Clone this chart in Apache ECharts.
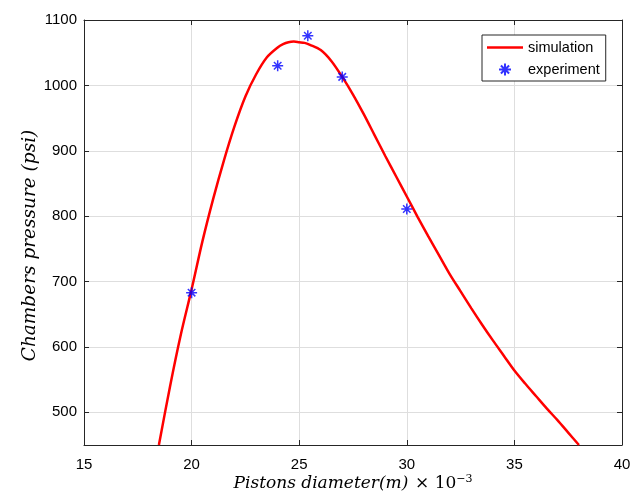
<!DOCTYPE html>
<html><head><meta charset="utf-8">
<script src="https://cdn.jsdelivr.net/npm/echarts@6/dist/echarts.min.js"></script>
<style>html,body{margin:0;padding:0;background:#fff}#c{width:640px;height:492px}</style>
</head><body><div id="c"></div>
<script>
// Simulation curve
const simX = [18.48, 19.0, 19.5, 20.0, 20.5, 21.0, 21.5, 22.0, 22.5, 23.0, 23.5, 24.0, 24.25, 24.5, 24.75, 25.0, 25.25, 25.5, 26.0, 26.5, 27.0, 27.5, 28.0, 28.5, 29.0, 29.5, 30.0, 30.5, 31.0, 31.5, 32.0, 32.5, 33.0, 33.5, 34.0, 34.5, 35.0, 35.5, 36.0, 36.5, 37.0, 37.5, 38.0];
const simY = [450, 540, 619, 688, 761, 826, 885, 938, 983, 1017, 1043, 1058, 1063, 1066, 1067, 1066, 1065, 1062, 1054, 1037, 1013, 986, 956, 924, 892, 861, 830, 799, 769, 740, 711, 685, 659, 634, 610, 587, 564, 544, 525, 506, 488, 469, 450];
// Experiment points
const expX = [20, 24, 25.4, 27, 30];
const expY = [683, 1030, 1076, 1013, 811];
const seriesNames = ['simulation', 'experiment'];
const xName = 'Pistons diameter(m)';
const yName = 'Chambers pressure (psi)';

const chart = echarts.init(document.getElementById('c'), null, {renderer: 'canvas'});
const asterisk = 'path://M5,0L5,10M0,5L10,5M1.6,1.6L8.4,8.4M8.4,1.6L1.6,8.4';
const axisCol = '#262626';
const labelFont = 'Liberation Sans';
const serif = 'DejaVu Serif';
const boxAxis = {
  axisLine: {show: true, onZero: false, lineStyle: {color: axisCol, width: 1}},
  axisTick: {show: true, inside: true, length: 5, lineStyle: {color: axisCol}},
};
const option = {
  animation: false,
  grid: {left: 84, right: 18, top: 20, bottom: 47, containLabel: false, outerBoundsMode: 'none'},
  legend: {
    orient: 'vertical', left: 482, top: 35,
    data: [
      {name: seriesNames[0], icon: 'path://M0,0L36,0L36,2.6L0,2.6Z'},
      {name: seriesNames[1]}
    ],
    backgroundColor: '#fff', borderColor: axisCol, borderWidth: 1,
    padding: [5, 6, 4, 5], itemGap: 7, itemWidth: 36, itemHeight: 12,
    textStyle: {fontFamily: labelFont, fontSize: 14.5, color: '#000'}
  },
  xAxis: [
    Object.assign({
      type: 'value', min: 15, max: 40, interval: 5, position: 'bottom',
      axisLabel: {color: '#000', fontSize: 15, margin: 12, fontFamily: labelFont},
      splitLine: {show: true, lineStyle: {color: '#dedede', width: 1}},
      name: '{i|' + xName + '}  {n|× 10}{s|−3}',
      nameLocation: 'middle', nameGap: 29, nameMoveOverlap: false,
      nameTextStyle: {
        rich: {
          i: {fontFamily: serif, fontStyle: 'italic', fontSize: 17, color: '#000'},
          n: {fontFamily: serif, fontSize: 17, color: '#000'},
          s: {fontFamily: serif, fontSize: 11, color: '#000', padding: [0, 0, 9, 0]}
        }
      }
    }, boxAxis),
    Object.assign({
      type: 'value', min: 15, max: 40, interval: 5, position: 'top',
      axisLabel: {show: false}, splitLine: {show: false}
    }, boxAxis)
  ],
  yAxis: [
    Object.assign({
      type: 'value', min: 450, max: 1100, splitNumber: 6, position: 'left',
      axisLabel: {color: '#000', fontSize: 15, margin: 7, fontFamily: labelFont, showMinLabel: false,
        formatter: v => String(v)},
      splitLine: {show: true, lineStyle: {color: '#dedede', width: 1}},
      name: yName, nameLocation: 'middle', nameGap: 44, nameMoveOverlap: false,
      nameTextStyle: {fontFamily: serif, fontStyle: 'italic', fontSize: 18.5, color: '#000', padding: [0, 26, 0, 0]}
    }, boxAxis),
    Object.assign({
      type: 'value', min: 450, max: 1100, splitNumber: 6, position: 'right',
      axisLabel: {show: false}, splitLine: {show: false}
    }, boxAxis)
  ],
  series: [
    {
      type: 'line', name: seriesNames[0],
      data: simX.map((x, i) => [x, simY[i]]),
      smooth: 0.3, symbol: 'none', showSymbol: false,
      lineStyle: {color: '#ff0000', width: 2.5}, itemStyle: {color: '#ff0000'},
      xAxisIndex: 0, yAxisIndex: 0, z: 3
    },
    {
      type: 'scatter', name: seriesNames[1],
      data: expX.map((x, i) => [x, expY[i]]),
      symbol: asterisk, symbolSize: 11,
      itemStyle: {color: 'rgba(0,0,0,0)', borderColor: '#0000ff', borderWidth: 1.5},
      xAxisIndex: 0, yAxisIndex: 0, z: 4
    }
  ]
};
chart.setOption(option);
</script>
</body></html>
